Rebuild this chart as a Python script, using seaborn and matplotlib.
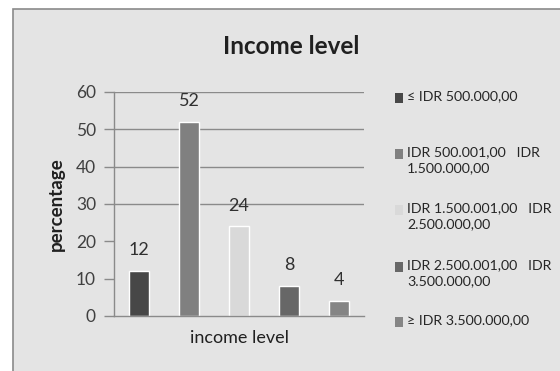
import matplotlib
matplotlib.use("Agg")
import matplotlib.pyplot as plt
from matplotlib.patches import Rectangle
import seaborn as sns
import pandas as pd

categories = ["≤ IDR 500.000,00",
              "IDR 500.001,00   IDR\n1.500.000,00",
              "IDR 1.500.001,00   IDR\n2.500.000,00",
              "IDR 2.500.001,00   IDR\n3.500.000,00",
              "≥ IDR 3.500.000,00"]
values = [12, 52, 24, 8, 4]
colors = ["#474747", "#808080", "#d9d9d9", "#676767", "#858585"]
yticks = [0, 10, 20, 30, 40, 50, 60]
grid_levels = [30, 40, 50, 60]

sns.set_theme(style="white")
plt.rcParams['font.family'] = ['Lato', 'DejaVu Sans']

W, H = 560, 371
fig = plt.figure(figsize=(W / 100, H / 100), dpi=100)
fig.patch.set_facecolor("white")
fig.patches.append(Rectangle((13 / W, -0.05), 1.1, 1.05 - 9 / H, transform=fig.transFigure,
                             facecolor="#e4e4e4", edgecolor="#8a8a8a", lw=1.2, zorder=-10))

ax = fig.add_axes([114 / W, 1 - 316 / H, 250 / W, 224 / H])
ax.set_facecolor("none")

df = pd.DataFrame({"cat": categories, "val": values})
sns.barplot(data=df, x="cat", y="val", hue="cat", palette=colors, dodge=False,
            width=0.4, legend=False, ax=ax, saturation=1)

for y in grid_levels:
    ax.axhline(y, color="#8a8a8a", lw=1.0, zorder=0)

ax.set_ylim(0, 60)
ax.set_xlim(-0.5, 4.5)
ax.set_yticks(yticks)
ax.set_yticklabels([str(t) for t in yticks], fontsize=12.5, color="#404040")
ax.set_xticks([])
ax.tick_params(axis="y", direction="out", length=7, width=1, color="#8a8a8a", pad=6, left=True)
for s in ["top", "right"]:
    ax.spines[s].set_visible(False)
for s in ["left", "bottom"]:
    ax.spines[s].set_color("#8a8a8a")
    ax.spines[s].set_linewidth(1.0)

for i, v in enumerate(values):
    ax.annotate(str(v), (i, v), xytext=(0, 15), textcoords="offset points",
                ha="center", va="center", fontsize=13, color="#303030")

ax.set_ylabel("percentage", fontsize=13.5, fontweight="bold", color="#202020", labelpad=8)
ax.set_xlabel("income level", fontsize=13, color="#202020", labelpad=10)

fig.text(291 / W, 1 - 46 / H, "Income level", ha="center", va="center",
         fontsize=17.5, fontweight="bold", color="#202020")

# legend (handle aligned with first line of each entry)
ys = [98, 154, 210, 267, 322]
for lab, c, y in zip(categories, colors, ys):
    fig.patches.append(Rectangle((395 / W, 1 - (y + 5) / H), 8 / W, 10 / H,
                                 transform=fig.transFigure, facecolor=c, edgecolor="none"))
    fig.text(407 / W, 1 - (y - 8) / H, lab, ha="left", va="top", fontsize=10.2,
             color="#262626", linespacing=1.45)

fig.savefig("out.png", dpi=100)
